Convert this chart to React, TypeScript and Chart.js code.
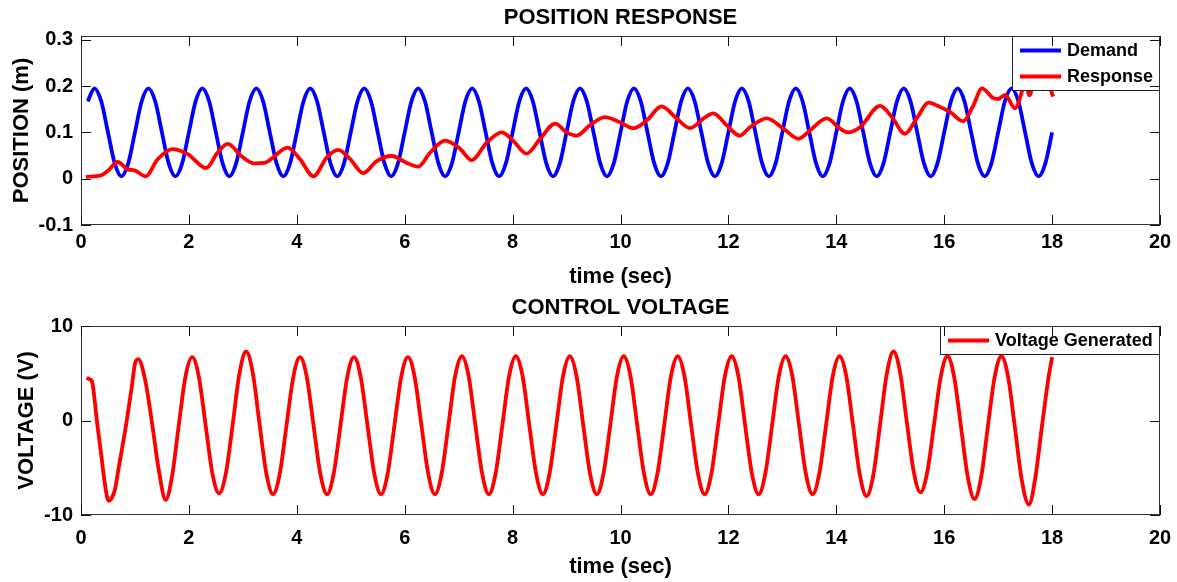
import React, { useEffect, useRef } from 'react';
import { Chart, registerables } from 'chart.js';

Chart.register(...registerables);

// ---------- DATA ----------
const X_TICKS = [0, 2, 4, 6, 8, 10, 12, 14, 16, 18, 20];
const POS_TICKS = [-0.1, 0, 0.1, 0.2, 0.3];
const VOLT_TICKS = [-10, 0, 10];

// Demand position (m), sampled every 0.125 s from t = 0.125 s to 18 s
const DEMAND_START = 0.125;
const DEMAND_STEP = 0.125;
const DEMAND = [
  0.167, 0.195, 0.167, 0.1, 0.033, 0.005, 0.033, 0.1,
  0.167, 0.195, 0.167, 0.1, 0.033, 0.005, 0.033, 0.1,
  0.167, 0.195, 0.167, 0.1, 0.033, 0.005, 0.033, 0.1,
  0.167, 0.195, 0.167, 0.1, 0.033, 0.005, 0.033, 0.1,
  0.167, 0.195, 0.167, 0.1, 0.033, 0.005, 0.033, 0.1,
  0.167, 0.195, 0.167, 0.1, 0.033, 0.005, 0.033, 0.1,
  0.167, 0.195, 0.167, 0.1, 0.033, 0.005, 0.033, 0.1,
  0.167, 0.195, 0.167, 0.1, 0.033, 0.005, 0.033, 0.1,
  0.167, 0.195, 0.167, 0.1, 0.033, 0.005, 0.033, 0.1,
  0.167, 0.195, 0.167, 0.1, 0.033, 0.005, 0.033, 0.1,
  0.167, 0.195, 0.167, 0.1, 0.033, 0.005, 0.033, 0.1,
  0.167, 0.195, 0.167, 0.1, 0.033, 0.005, 0.033, 0.1,
  0.167, 0.195, 0.167, 0.1, 0.033, 0.005, 0.033, 0.1,
  0.167, 0.195, 0.167, 0.1, 0.033, 0.005, 0.033, 0.1,
  0.167, 0.195, 0.167, 0.1, 0.033, 0.005, 0.033, 0.1,
  0.167, 0.195, 0.167, 0.1, 0.033, 0.005, 0.033, 0.1,
  0.167, 0.195, 0.167, 0.1, 0.033, 0.005, 0.033, 0.1,
  0.167, 0.195, 0.167, 0.1, 0.033, 0.005, 0.033, 0.1,
];

// Response position (m)
const RESPONSE_T = [
  0.09, 0.37, 0.49, 0.68, 0.87, 0.99, 1.2, 1.42, 1.7, 1.98,
  2.32, 2.53, 2.72, 2.97, 3.21, 3.4, 3.52, 3.83, 4.06, 4.31,
  4.55, 4.77, 4.99, 5.23, 5.48, 5.76, 6.04, 6.25, 6.47, 6.75,
  7.03, 7.24, 7.52, 7.8, 8.01, 8.26, 8.51, 8.79, 9.0, 9.19,
  9.43, 9.71, 9.99, 10.24, 10.49, 10.76, 11.04, 11.29, 11.54, 11.72,
  11.97, 12.21, 12.4, 12.71, 13.02, 13.3, 13.51, 13.82, 14.07, 14.22,
  14.44, 14.81, 15.03, 15.27, 15.49, 15.71, 15.92, 16.11, 16.35, 16.54,
  16.7, 16.91, 17.0, 17.13, 17.31, 17.44, 17.5, 17.58, 17.68, 17.82,
  17.96, 18.02,
];
const RESPONSE = [
  0.004, 0.007, 0.016, 0.036, 0.02, 0.018, 0.005, 0.042, 0.064, 0.053,
  0.023, 0.056, 0.075, 0.049, 0.033, 0.034, 0.042, 0.067, 0.042, 0.005,
  0.045, 0.062, 0.042, 0.012, 0.038, 0.049, 0.034, 0.026, 0.056, 0.082,
  0.064, 0.04, 0.078, 0.1, 0.082, 0.054, 0.086, 0.119, 0.1, 0.093,
  0.115, 0.133, 0.122, 0.109, 0.126, 0.156, 0.13, 0.109, 0.13, 0.141,
  0.115, 0.093, 0.111, 0.13, 0.108, 0.086, 0.104, 0.13, 0.108, 0.1,
  0.111, 0.157, 0.133, 0.097, 0.13, 0.164, 0.155, 0.144, 0.124, 0.158,
  0.195, 0.174, 0.172, 0.181, 0.152, 0.188, 0.215, 0.18, 0.215, 0.22,
  0.196, 0.177,
];

// Control voltage (V)
const VOLT_T = [
  0.1, 0.15, 0.2, 0.3, 0.38, 0.45, 0.51, 0.57, 0.63, 0.69, 0.84, 0.94, 1.0,
  1.06, 1.185, 1.31, 1.435, 1.57, 1.685, 1.81, 1.935,
  2.06, 2.185, 2.31, 2.435, 2.56, 2.685, 2.81, 2.935,
  3.06, 3.185, 3.31, 3.435, 3.56, 3.685, 3.81, 3.935,
  4.06, 4.185, 4.31, 4.435, 4.56, 4.685, 4.81, 4.935,
  5.06, 5.185, 5.31, 5.435, 5.56, 5.685, 5.81, 5.935,
  6.06, 6.185, 6.31, 6.435, 6.56, 6.685, 6.81, 6.935,
  7.06, 7.185, 7.31, 7.435, 7.56, 7.685, 7.81, 7.935,
  8.06, 8.185, 8.31, 8.435, 8.56, 8.685, 8.81, 8.935,
  9.06, 9.185, 9.31, 9.435, 9.56, 9.685, 9.81, 9.935,
  10.06, 10.185, 10.31, 10.435, 10.56, 10.685, 10.81, 10.935,
  11.06, 11.185, 11.31, 11.435, 11.56, 11.685, 11.81, 11.935,
  12.06, 12.185, 12.31, 12.435, 12.56, 12.685, 12.81, 12.935,
  13.06, 13.185, 13.31, 13.435, 13.56, 13.685, 13.81, 13.935,
  14.06, 14.185, 14.31, 14.435, 14.56, 14.685, 14.81, 14.935,
  15.06, 15.185, 15.31, 15.435, 15.56, 15.685, 15.81, 15.935,
  16.06, 16.185, 16.31, 16.435, 16.56, 16.685, 16.81, 16.935,
  17.06, 17.185, 17.31, 17.435, 17.57, 17.685, 17.81, 17.935, 18.0,
];
const VOLT = [
  4.5, 4.4, 4.2, -0.3, -3.9, -7.0, -8.5, -8.2, -7.3, -5.3, -0.3, 3.5, 6.0,
  6.5, 4.4, 0.0, -5.0, -8.4, -6.0, -0.6, 4.6,
  6.7, 4.6, -0.5, -5.6, -7.7, -5.6, -0.5, 4.9,
  7.3, 5.0, -0.4, -5.6, -7.8, -5.6, -0.5, 4.6,
  6.7, 4.6, -0.5, -5.6, -7.8, -5.6, -0.5, 4.6,
  6.7, 4.6, -0.5, -5.6, -7.8, -5.6, -0.5, 4.6,
  6.7, 4.6, -0.5, -5.6, -7.8, -5.6, -0.5, 4.7,
  6.8, 4.7, -0.5, -5.6, -7.8, -5.6, -0.5, 4.7,
  6.8, 4.7, -0.5, -5.6, -7.8, -5.6, -0.5, 4.7,
  6.8, 4.7, -0.5, -5.6, -7.8, -5.6, -0.5, 4.7,
  6.8, 4.7, -0.5, -5.6, -7.8, -5.6, -0.5, 4.7,
  6.8, 4.7, -0.5, -5.6, -7.8, -5.6, -0.5, 4.7,
  6.8, 4.7, -0.5, -5.6, -7.8, -5.6, -0.5, 4.7,
  6.8, 4.7, -0.5, -5.6, -7.8, -5.6, -0.5, 4.7,
  6.8, 4.7, -0.5, -5.7, -8.0, -5.8, -0.5, 4.9,
  7.3, 5.0, -0.3, -5.4, -7.6, -5.5, -0.5, 4.6,
  6.8, 4.6, -0.6, -5.9, -8.3, -6.0, -0.6, 4.6,
  6.8, 4.6, -0.7, -6.2, -8.9, -6.2, -0.7, 4.6, 6.7,
];

// ---------- STYLE ----------
const FONT = '"Liberation Sans", Arial, Helvetica, sans-serif';
const W = 1177;
const PLOT_LEFT = 81;
const PLOT_RIGHT = 1160;
const PLOT_TOP = 36;
const PLOT_BOTTOM = 225;

const framePlugin = {
  id: 'frame',
  afterDatasetsDraw(chart: any, _args: any, opts: any) {
    const { ctx, chartArea: a, scales } = chart;
    const xs = scales.x;
    const ys = scales.y;
    ctx.save();

    // legend (inside top-right, opaque)
    const items = opts.legend || [];
    ctx.font = `bold 18px ${FONT}`;
    let maxW = 0;
    items.forEach((it: any) => { maxW = Math.max(maxW, ctx.measureText(it.label).width); });
    const boxW = Math.round(8 + 41 + 6 + maxW + 7);
    const boxH = 26 * items.length + 3;
    const bx = a.right - boxW;
    const by = a.top;
    ctx.fillStyle = '#fff';
    ctx.fillRect(bx, by, boxW, boxH);
    ctx.strokeStyle = '#222';
    ctx.lineWidth = 1;
    ctx.strokeRect(bx + 0.5, by + 0.5, boxW - 1, boxH - 1);
    items.forEach((it: any, i: number) => {
      const cy = by + 14.5 + 26 * i;
      ctx.strokeStyle = it.color;
      ctx.lineWidth = 3.8;
      ctx.beginPath();
      ctx.moveTo(bx + 8, cy);
      ctx.lineTo(bx + 49, cy);
      ctx.stroke();
      ctx.fillStyle = '#000';
      ctx.textAlign = 'left';
      ctx.textBaseline = 'middle';
      ctx.fillText(it.label, bx + 55, cy + 1);
    });

    // frame
    ctx.strokeStyle = '#333';
    ctx.lineWidth = 1;
    ctx.strokeRect(a.left + 0.5, a.top + 0.5, a.width - 1, a.height - 1);

    // inward ticks
    ctx.strokeStyle = '#111';
    ctx.beginPath();
    xs.ticks.forEach((t: any) => {
      const px = Math.round(xs.getPixelForValue(t.value)) + 0.5;
      ctx.moveTo(px, a.bottom);
      ctx.lineTo(px, a.bottom - 10);
      ctx.moveTo(px, a.top);
      ctx.lineTo(px, a.top + 10);
    });
    ys.ticks.forEach((t: any) => {
      const py = Math.round(ys.getPixelForValue(t.value)) + 0.5;
      ctx.moveTo(a.left, py);
      ctx.lineTo(a.left + 10, py);
      ctx.moveTo(a.right, py);
      ctx.lineTo(a.right - 10, py);
    });
    ctx.stroke();

    // titles
    ctx.fillStyle = '#000';
    ctx.font = `bold 22px ${FONT}`;
    ctx.textAlign = 'center';
    ctx.textBaseline = 'middle';
    ctx.fillText(opts.title, (a.left + a.right) / 2, a.top - 18);
    ctx.fillText(opts.xLabel, (a.left + a.right) / 2, a.bottom + 52);

    // y label, placed left of the widest tick label
    ctx.font = `bold 20px ${FONT}`;
    let tw = 0;
    ys.ticks.forEach((t: any) => { tw = Math.max(tw, ctx.measureText(t.label).width); });
    const yx = a.left - 8 - tw - 17;
    ctx.font = `bold 22px ${FONT}`;
    ctx.translate(yx, (a.top + a.bottom) / 2);
    ctx.rotate(-Math.PI / 2);
    ctx.fillText(opts.yLabel, 0, 0);
    ctx.restore();
  },
};

function makeConfig(height: number, xLineHeight: number, datasets: any[], yMin: number, yMax: number, yTicks: number[], frame: any) {
  const tickFont = { family: FONT, size: 20, weight: 'bold' as const };
  return {
    type: 'line' as const,
    data: { datasets },
    plugins: [framePlugin],
    options: {
      responsive: false,
      animation: false as const,
      layout: { padding: { left: 0, top: PLOT_TOP, right: W - PLOT_RIGHT, bottom: 0 } },
      plugins: {
        legend: { display: false },
        tooltip: { enabled: false },
        title: { display: false },
        frame,
      },
      elements: { point: { radius: 0 } },
      scales: {
        x: {
          type: 'linear' as const,
          min: 0,
          max: 20,
          afterBuildTicks: (s: any) => { s.ticks = X_TICKS.map((v) => ({ value: v })); },
          afterFit: (s: any) => { s.height = height - PLOT_BOTTOM; },
          grid: { display: false, drawTicks: false },
          border: { display: false },
          ticks: {
            color: '#000',
            font: { ...tickFont, lineHeight: xLineHeight },
            padding: 5,
            maxRotation: 0,
            autoSkip: false,
            callback: (v: any) => String(v),
          },
        },
        y: {
          type: 'linear' as const,
          min: yMin,
          max: yMax,
          afterBuildTicks: (s: any) => { s.ticks = yTicks.map((v) => ({ value: v })); },
          afterFit: (s: any) => { s.width = PLOT_LEFT; },
          grid: { display: false, drawTicks: false },
          border: { display: false },
          ticks: { color: '#000', font: tickFont, padding: 8, autoSkip: false, callback: (v: any) => String(v) },
        },
      },
    },
  };
}

export default function App() {
  const topRef = useRef<HTMLCanvasElement | null>(null);
  const botRef = useRef<HTMLCanvasElement | null>(null);

  useEffect(() => {
    const demandPts = DEMAND.map((v, i) => ({ x: DEMAND_START + i * DEMAND_STEP, y: v }));
    const responsePts = RESPONSE.map((v, i) => ({ x: RESPONSE_T[i], y: v }));
    const voltPts = VOLT.map((v, i) => ({ x: VOLT_T[i], y: v }));

    const top = new Chart(topRef.current as HTMLCanvasElement, makeConfig(
      290, 1.25,
      [
        { label: 'Demand', data: demandPts, borderColor: '#0000ff', borderWidth: 3.8, cubicInterpolationMode: 'monotone', order: 1 },
        { label: 'Response', data: responsePts, borderColor: '#ff0000', borderWidth: 3.8, cubicInterpolationMode: 'monotone', order: 0 },
      ],
      -0.1, 0.308, POS_TICKS,
      {
        title: 'POSITION RESPONSE', xLabel: 'time (sec)', yLabel: 'POSITION (m)',
        legend: [{ label: 'Demand', color: '#0000ff' }, { label: 'Response', color: '#ff0000' }],
      },
    ) as any);

    const bot = new Chart(botRef.current as HTMLCanvasElement, makeConfig(
      292, 1.85,
      [
        { label: 'Voltage Generated', data: voltPts, borderColor: '#ff0000', borderWidth: 3.8, cubicInterpolationMode: 'monotone' },
      ],
      -10, 10, VOLT_TICKS,
      {
        title: 'CONTROL VOLTAGE', xLabel: 'time (sec)', yLabel: 'VOLTAGE (V)',
        legend: [{ label: 'Voltage Generated', color: '#ff0000' }],
      },
    ) as any);

    return () => { top.destroy(); bot.destroy(); };
  }, []);

  return (
    <div style={{ position: 'absolute', left: 0, top: 0, width: W, height: 582, background: '#fff' }}>
      <canvas ref={topRef} width={W} height={290} style={{ display: 'block', width: W, height: 290 }} />
      <canvas ref={botRef} width={W} height={292} style={{ display: 'block', width: W, height: 292 }} />
    </div>
  );
}
